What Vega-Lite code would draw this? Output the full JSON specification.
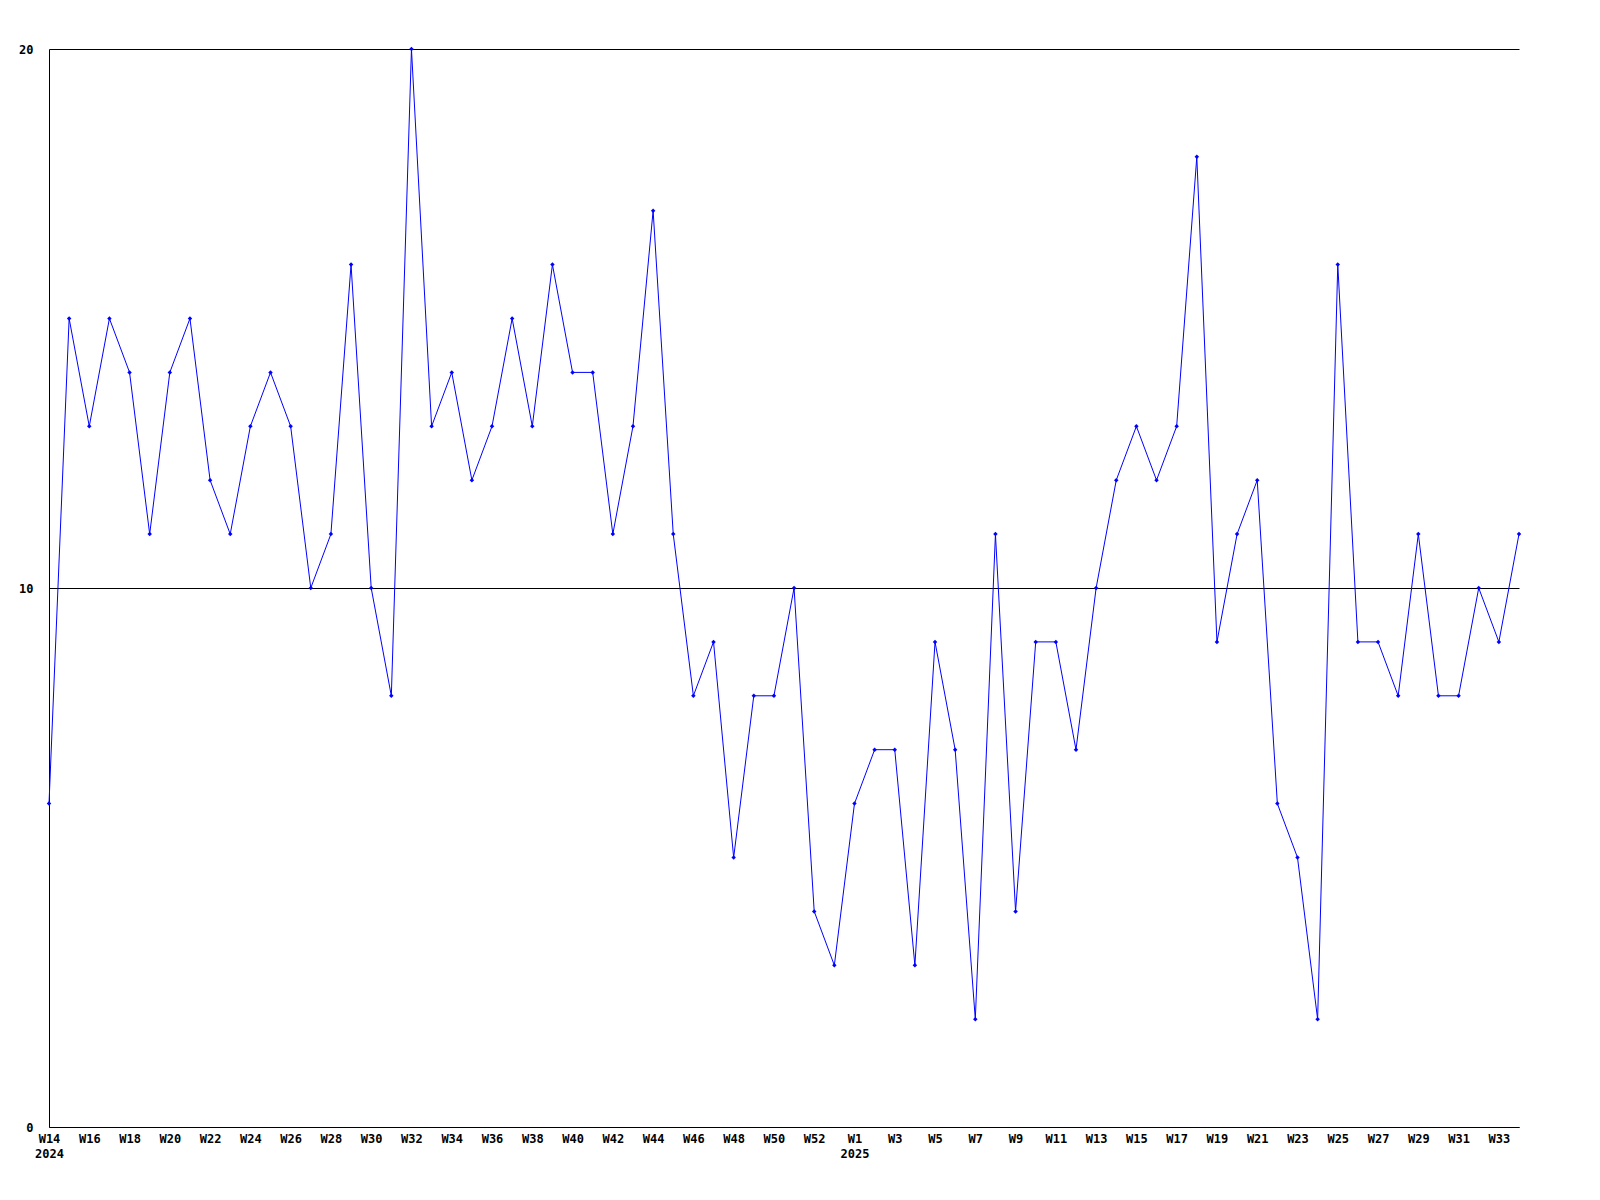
{
  "$schema": "https://vega.github.io/schema/vega-lite/v6.json",
  "width": 1470,
  "height": 1078,
  "autosize": {"type": "none"},
  "padding": {"left": 49, "top": 49, "right": 81, "bottom": 73},
  "background": "white",
  "config": {
    "view": {"stroke": null},
    "axis": {
      "labelFont": "DejaVu Sans Mono",
      "labelFontWeight": "bold",
      "labelFontSize": 12,
      "labelColor": "black",
      "domainColor": "black",
      "domainWidth": 1,
      "ticks": false,
      "title": null
    }
  },
  "data": {
    "values": [
      {"week": "2024-W14", "value": 6},
      {"week": "2024-W15", "value": 15},
      {"week": "2024-W16", "value": 13},
      {"week": "2024-W17", "value": 15},
      {"week": "2024-W18", "value": 14},
      {"week": "2024-W19", "value": 11},
      {"week": "2024-W20", "value": 14},
      {"week": "2024-W21", "value": 15},
      {"week": "2024-W22", "value": 12},
      {"week": "2024-W23", "value": 11},
      {"week": "2024-W24", "value": 13},
      {"week": "2024-W25", "value": 14},
      {"week": "2024-W26", "value": 13},
      {"week": "2024-W27", "value": 10},
      {"week": "2024-W28", "value": 11},
      {"week": "2024-W29", "value": 16},
      {"week": "2024-W30", "value": 10},
      {"week": "2024-W31", "value": 8},
      {"week": "2024-W32", "value": 20},
      {"week": "2024-W33", "value": 13},
      {"week": "2024-W34", "value": 14},
      {"week": "2024-W35", "value": 12},
      {"week": "2024-W36", "value": 13},
      {"week": "2024-W37", "value": 15},
      {"week": "2024-W38", "value": 13},
      {"week": "2024-W39", "value": 16},
      {"week": "2024-W40", "value": 14},
      {"week": "2024-W41", "value": 14},
      {"week": "2024-W42", "value": 11},
      {"week": "2024-W43", "value": 13},
      {"week": "2024-W44", "value": 17},
      {"week": "2024-W45", "value": 11},
      {"week": "2024-W46", "value": 8},
      {"week": "2024-W47", "value": 9},
      {"week": "2024-W48", "value": 5},
      {"week": "2024-W49", "value": 8},
      {"week": "2024-W50", "value": 8},
      {"week": "2024-W51", "value": 10},
      {"week": "2024-W52", "value": 4},
      {"week": "2024-W53", "value": 3},
      {"week": "2025-W1", "value": 6},
      {"week": "2025-W2", "value": 7},
      {"week": "2025-W3", "value": 7},
      {"week": "2025-W4", "value": 3},
      {"week": "2025-W5", "value": 9},
      {"week": "2025-W6", "value": 7},
      {"week": "2025-W7", "value": 2},
      {"week": "2025-W8", "value": 11},
      {"week": "2025-W9", "value": 4},
      {"week": "2025-W10", "value": 9},
      {"week": "2025-W11", "value": 9},
      {"week": "2025-W12", "value": 7},
      {"week": "2025-W13", "value": 10},
      {"week": "2025-W14", "value": 12},
      {"week": "2025-W15", "value": 13},
      {"week": "2025-W16", "value": 12},
      {"week": "2025-W17", "value": 13},
      {"week": "2025-W18", "value": 18},
      {"week": "2025-W19", "value": 9},
      {"week": "2025-W20", "value": 11},
      {"week": "2025-W21", "value": 12},
      {"week": "2025-W22", "value": 6},
      {"week": "2025-W23", "value": 5},
      {"week": "2025-W24", "value": 2},
      {"week": "2025-W25", "value": 16},
      {"week": "2025-W26", "value": 9},
      {"week": "2025-W27", "value": 9},
      {"week": "2025-W28", "value": 8},
      {"week": "2025-W29", "value": 11},
      {"week": "2025-W30", "value": 8},
      {"week": "2025-W31", "value": 8},
      {"week": "2025-W32", "value": 10},
      {"week": "2025-W33", "value": 9},
      {"week": "2025-W34", "value": 11}
    ]
  },
  "encoding": {
    "x": {
      "field": "week",
      "type": "ordinal",
      "sort": null,
      "scale": {"type": "point", "padding": 0},
      "axis": {
        "labelAngle": 0,
        "labelPadding": 6,
        "labelBaseline": "top",
        "labelLineHeight": 15,
        "grid": false,
        "values": ["2024-W14","2024-W16","2024-W18","2024-W20","2024-W22","2024-W24","2024-W26","2024-W28","2024-W30","2024-W32","2024-W34","2024-W36","2024-W38","2024-W40","2024-W42","2024-W44","2024-W46","2024-W48","2024-W50","2024-W52","2025-W1","2025-W3","2025-W5","2025-W7","2025-W9","2025-W11","2025-W13","2025-W15","2025-W17","2025-W19","2025-W21","2025-W23","2025-W25","2025-W27","2025-W29","2025-W31","2025-W33"],
        "labelExpr": "(datum.value == '2024-W14' || datum.value == '2025-W1') ? [slice(datum.value, 5), slice(datum.value, 0, 4)] : slice(datum.value, 5)"
      }
    },
    "y": {
      "field": "value",
      "type": "quantitative",
      "scale": {"domain": [0, 20], "nice": false, "zero": true},
      "axis": {
        "values": [0, 10, 20],
        "grid": true,
        "gridColor": "black",
        "gridOpacity": 1,
        "gridWidth": 1,
        "labelPadding": 16,
        "labelBaseline": "middle"
      }
    }
  },
  "layer": [
    {"mark": {"type": "line", "color": "#0000ff", "strokeWidth": 1}},
    {"mark": {"type": "point", "shape": "diamond", "filled": true, "color": "#0000ff", "size": 20, "opacity": 1}}
  ]
}
